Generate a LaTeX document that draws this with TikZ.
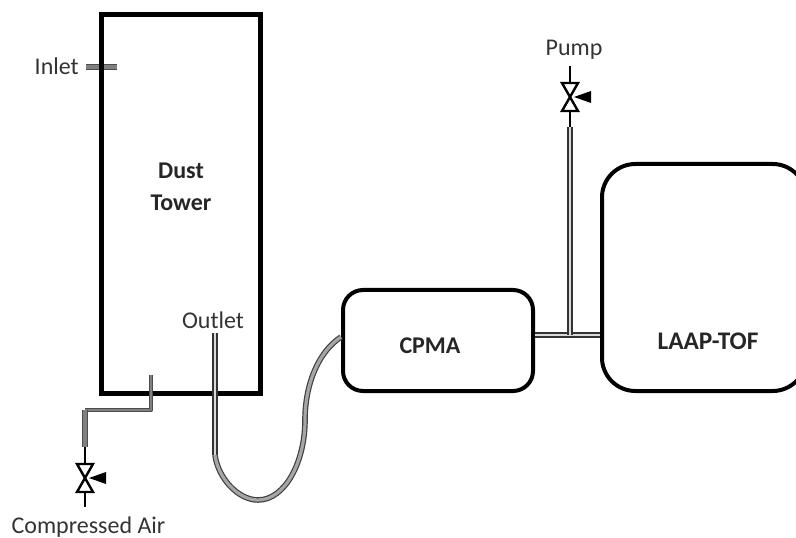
\documentclass[tikz,border=0pt]{standalone}
\usepackage{fontspec}
\setmainfont{Carlito}
\tikzstyle{vessel}=[rectangle,draw=black,line width=3pt,inner sep=0pt]
\tikzstyle{title}=[font=\fontsize{18}{21}\selectfont\bfseries,text=black!85,align=center,inner sep=0pt]
\tikzstyle{label}=[font=\fontsize{18}{21}\selectfont,text=black!80,inner sep=0pt]
\tikzstyle{tube}=[draw=black!80,line width=0.9pt,double=black!15,double distance=2.2pt]
\tikzstyle{hose}=[draw=black!75,line width=0.9pt,double=black!35,double distance=2.4pt]
\tikzstyle{airtube}=[draw=black!70,line width=0.8pt,double=black!50,double distance=2pt,line join=round]
\tikzstyle{stem}=[draw=black,line width=1.6pt]
\tikzset{
	valve/.pic={
		\draw[line width=1.8pt,line join=miter] (-8,-14) -- (8,-14) -- (-8,14) -- (8,14) -- cycle;
		\fill[black] (4,0) -- (21,-6) -- (21,6) -- cycle;
		\coordinate (-top) at (0,-15);
		\coordinate (-bottom) at (0,15);
	}
}
\begin{document}
\begin{tikzpicture}[x=0.75pt,y=-0.75pt]
	\useasboundingbox (0,0) rectangle (796,538);

	% Inlet
	\coordinate (inleta) at (86,67);
	\coordinate (inletb) at (117,67);
	\draw[airtube,double distance=3.4pt] (inleta) -- (inletb);

	% Vessels
	\node[vessel,line width=3.5pt,minimum width=123pt-3.5pt,minimum height=288pt-3.5pt] (tower) at (181,204) {};
	\node[vessel,rounded corners=15pt,minimum width=145.5pt-3pt,minimum height=78.75pt-3pt] (cpma) at (438,340.5) {};
	\node[vessel,rounded corners=25pt,minimum width=156pt-3pt,minimum height=173.25pt-3pt] (laap) at (704,277.5) {};

	% Labels
	\node[title] (towerlabel) at (181,187) {Dust\\[3pt]Tower};
	\node[title] (cpmalabel) at (430,346) {CPMA};
	\node[title,font=\fontsize{19}{21}\selectfont\bfseries] (laaplabel) at (708,341) {LAAP-TOF};
	\node[label,anchor=east] (inlet) at (79,66) {Inlet};
	\node[label] (outlet) at (213,320) {Outlet};
	\node[label] (pump) at (574,50) {Pump};
	\node[label] (air) at (88.5,527) {Compressed Air};

	% Valves
	\pic (airvalve) at (85,478) {valve};
	\pic (pumpvalve) at (570,97) {valve};

	% Compressed air line
	\coordinate (airin) at (151,375);
	\coordinate (airknee) at (151,410);
	\coordinate (aircorner) at (85,410);
	\coordinate (airend) at (85,447);
	\coordinate (airfree) at (85,507);
	\draw[airtube] (airin) -- (airknee) -- (aircorner);
	\draw[airtube,double distance=2.6pt] (aircorner) -- (airend);
	\draw[stem] (airend) -- (airvalve-top);
	\draw[stem] (airvalve-bottom) -- (airfree);

	% Outlet to CPMA
	\coordinate (outlettop) at (215,333);
	\coordinate (outletend) at (215,455);
	\coordinate (hosebottom) at (258,500);
	\coordinate (hosemid) at (305,420);
	\draw[tube] (outlettop) -- (outletend);
	\draw[hose] (outletend)
		.. controls (218,478) and (238,500) .. (hosebottom)
		.. controls (285,500) and (305,462) .. (hosemid)
		.. controls (305,385) and (318,352) .. (cpma.west |- 0,337);

	% CPMA to LAAP-TOF and pump
	\coordinate (tee) at (570,335);
	\coordinate (pumpend) at (570,127);
	\coordinate (pumpfree) at (570,66);
	\draw[tube] (cpma.east |- tee) -- (laap.west |- tee);
	\draw[tube] (tee) -- (pumpend);
	\draw[stem] (pumpend) -- (pumpvalve-bottom);
	\draw[stem] (pumpvalve-top) -- (pumpfree);
\end{tikzpicture}
\end{document}
